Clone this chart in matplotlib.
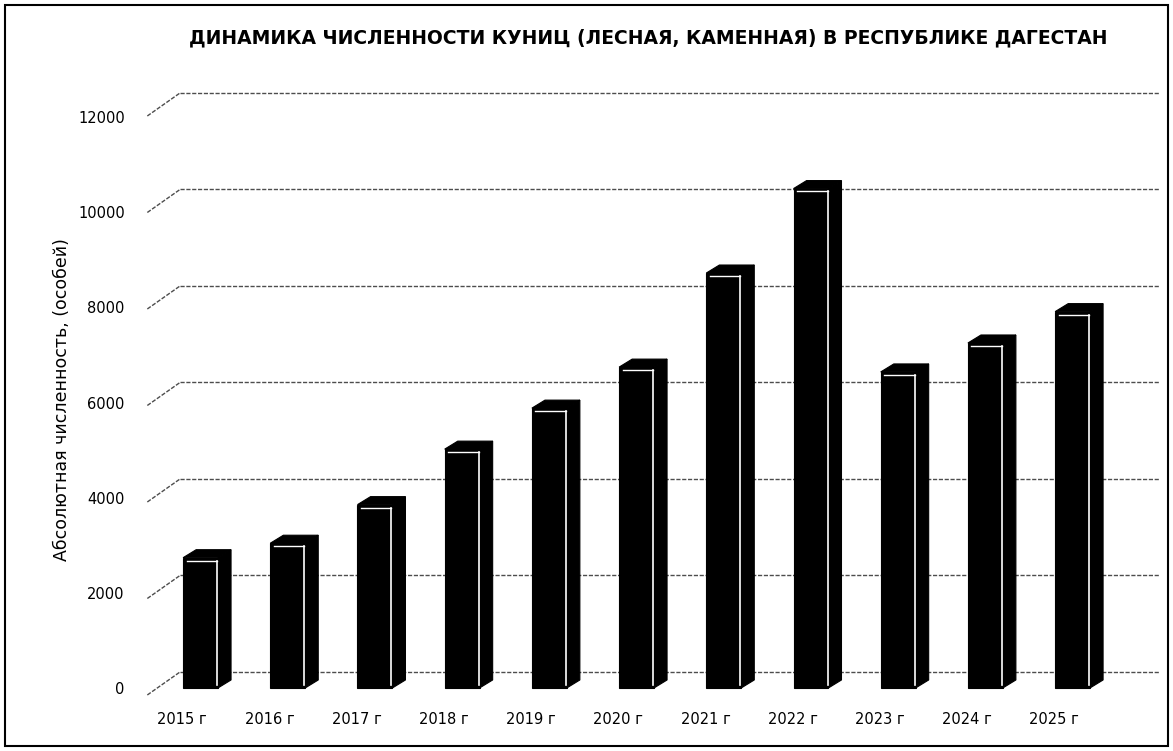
import matplotlib
matplotlib.use("Agg")
import matplotlib.pyplot as plt
from matplotlib.patches import Polygon, Rectangle

# ========= Data =========
years = ["2015 г", "2016 г", "2017 г", "2018 г", "2019 г", "2020 г",
         "2021 г", "2022 г", "2023 г", "2024 г", "2025 г"]
counts = [2700, 3000, 3800, 4950, 5800, 6650, 8600, 10350, 6550, 7150, 7800]
yticks = [0, 2000, 4000, 6000, 8000, 10000, 12000]

title = "ДИНАМИКА ЧИСЛЕННОСТИ КУНИЦ (ЛЕСНАЯ, КАМЕННАЯ) В РЕСПУБЛИКЕ ДАГЕСТАН"
ylabel = "Абсолютная численность, (особей)"

# ========= Fake 3D geometry (data units) =========
half_w = 0.2          # half width of bar front face
side_dx, side_dy = 0.15, 166      # bar depth offset
back_dx, back_dy = 0.24, 332      # back wall offset from bar plane
front_dx, front_dy = -0.61, -145  # front edge of the floor
label_shift = -0.21
label_scale = 0.986   # tick labels sit on the slanted front edge

W, H = 1173, 751
fig = plt.figure(figsize=(W / 100, H / 100), dpi=100)
ax = fig.add_axes([140 / W, (H - 700) / H, 1025 / W, 615 / H])
ax.set_xlim(-0.694, 11.06)
ax.set_ylim(-249, 12497)

grid_kw = dict(color="0.3", lw=1.0, linestyle=(0, (3, 1.2)), zorder=1)
x_end = 11.0
for v in yticks:
    ax.plot([back_dx - 0.475, x_end], [v + back_dy, v + back_dy], **grid_kw)
    ax.plot([front_dx, back_dx - 0.475], [v + front_dy, v + back_dy], **grid_kw)

for i, v in enumerate(counts):
    x0, x1 = i - half_w, i + half_w
    ax.add_patch(Rectangle((x0, 0), 2 * half_w, v, facecolor="black",
                           edgecolor="black", lw=0.8, zorder=3))
    side = [(x1, 0), (x1 + side_dx, side_dy), (x1 + side_dx, v + side_dy), (x1, v)]
    top = [(x0, v), (x0 + side_dx, v + side_dy), (x1 + side_dx, v + side_dy), (x1, v)]
    ax.add_patch(Polygon(side, closed=True, facecolor="black", edgecolor="black",
                         lw=0.8, zorder=3))
    ax.add_patch(Polygon(top, closed=True, facecolor="black", edgecolor="black",
                         lw=0.8, zorder=3))
    # highlights on the front face
    ax.plot([x1 - 0.01, x1 - 0.01], [60, v - 60], color="white", lw=1.2, zorder=4)
    ax.plot([x0 + 0.04, x1 - 0.01], [v - 60, v - 60], color="white", lw=1.0, zorder=4)

ax.set_yticks([t * label_scale for t in yticks], labels=[str(t) for t in yticks],
              fontsize=10.5)
ax.set_xticks([i + label_shift for i in range(len(years))], labels=years, fontsize=10.5)
ax.tick_params(length=0)
ax.tick_params(axis="y", pad=11)
ax.tick_params(axis="x", pad=9)
for s in ax.spines.values():
    s.set_visible(False)

fig.text(62 / W, 1 - 400 / H, ylabel, rotation=90, ha="center", va="center",
         fontsize=12.5)
fig.text(648 / W, 1 - 38 / H, title, ha="center", va="center", fontsize=13.5,
         fontweight="bold", family=["Liberation Sans Narrow", "DejaVu Sans"])

fig.patches.append(Rectangle((5 / W, 5 / H), 1 - 10 / W, 1 - 10 / H,
                             transform=fig.transFigure, fill=False,
                             edgecolor="black", lw=1.5))

fig.savefig("out.png", dpi=100)
